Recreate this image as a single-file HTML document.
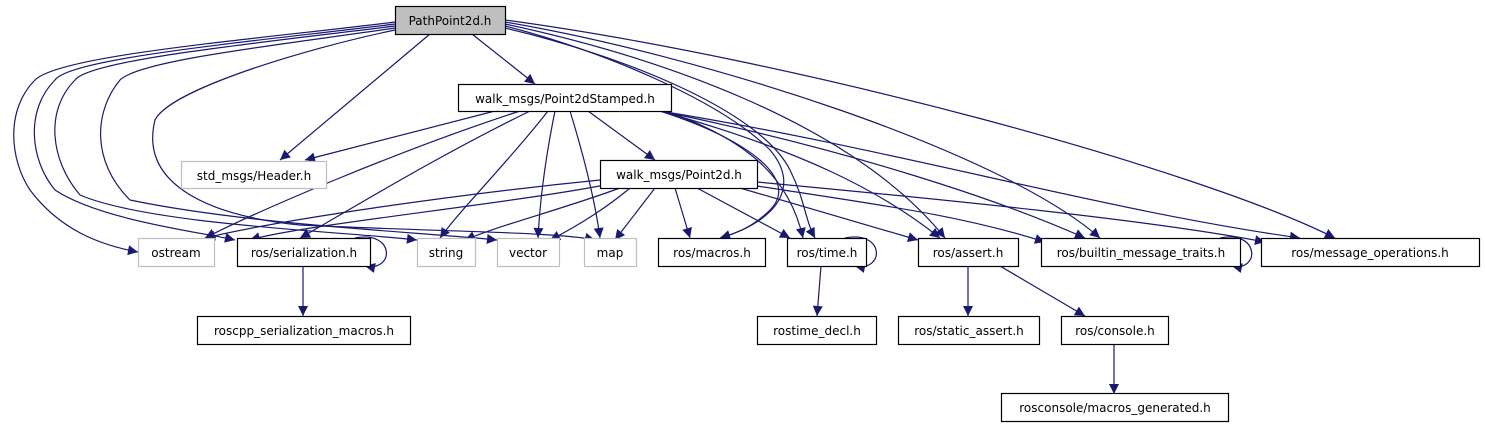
<!DOCTYPE html>
<html><head><meta charset="utf-8"><style>
html,body{margin:0;padding:0;background:#fff}
svg{display:block}
text{font-family:"DejaVu Sans","Liberation Sans",sans-serif;font-size:12px;fill:#000}
</style></head><body>
<svg width="1485" height="427" viewBox="0 0 1485 427" xmlns="http://www.w3.org/2000/svg">
<defs><marker id="a" viewBox="0 0 10 10" refX="10" refY="5" markerWidth="12" markerHeight="10" markerUnits="userSpaceOnUse" orient="auto"><path d="M0,0L10,5L0,10z" fill="#191970"/></marker></defs>
<g fill="none" stroke="#191970" stroke-width="1.2" marker-end="url(#a)">
<path d="M472,34L535,84"/>
<path d="M430,34L280,160"/>
<path d="M395,22C250,40 60,55 35,80C5,110 10,160 30,190C60,230 100,245 138,252"/>
<path d="M395,24C250,42 70,58 55,80C25,110 30,160 55,190C100,220 200,232 235,240"/>
<path d="M395,26C250,44 90,60 75,80C45,110 50,160 80,195C150,225 350,232 417,240"/>
<path d="M395,28C280,45 140,60 120,80C95,110 90,160 130,200C250,225 420,232 497,240"/>
<path d="M395,30C300,50 170,90 155,120C140,180 200,215 300,225C450,232 560,232 595,240"/>
<path d="M505,26C600,50 720,100 770,150C800,185 780,220 720,238"/>
<path d="M505,28C620,55 760,110 790,170C805,200 805,220 815,238"/>
<path d="M505,24C650,55 850,120 945,238"/>
<path d="M505,22C700,55 1000,150 1100,238"/>
<path d="M505,20C800,60 1200,170 1335,238"/>
<path d="M495,111L305,160"/>
<path d="M520,111C400,150 260,210 205,238"/>
<path d="M530,111C430,160 350,210 300,238"/>
<path d="M548,111C510,160 460,210 440,238"/>
<path d="M555,111C545,160 540,200 538,238"/>
<path d="M570,111C585,160 595,200 600,238"/>
<path d="M588,111L655,160"/>
<path d="M660,111C750,140 800,180 770,210C750,230 730,235 720,238"/>
<path d="M665,111C750,140 790,180 803,238"/>
<path d="M660,111C800,150 880,190 940,238"/>
<path d="M660,111C850,150 1000,200 1085,238"/>
<path d="M660,111C900,150 1100,210 1300,238"/>
<path d="M600,180C450,195 280,220 205,238"/>
<path d="M605,185C500,205 300,225 250,240"/>
<path d="M620,188C560,210 500,225 465,240"/>
<path d="M630,188C610,205 580,225 550,240"/>
<path d="M655,188L615,240"/>
<path d="M675,188L690,238"/>
<path d="M697,188L790,238"/>
<path d="M740,188L918,240"/>
<path d="M757,186C880,205 960,215 1045,242"/>
<path d="M757,182C950,200 1150,220 1265,242"/>
<path d="M355,238C395,230 395,272 365,266"/>
<path d="M845,238C885,230 885,272 855,266"/>
<path d="M1220,238C1260,230 1260,272 1232,266"/>
<path d="M303,266L303,316"/>
<path d="M821,266L817,316"/>
<path d="M968,266L968,316"/>
<path d="M1000,266L1085,316"/>
<path d="M1114,344L1114,394"/>
</g>
<g stroke-width="1.2" fill="#fff">
<rect x="395.5" y="6.5" width="110" height="28" fill="#bfbfbf" stroke="#000"/>
<rect x="458.5" y="84.5" width="213" height="27" stroke="#000"/>
<rect x="181.5" y="161.5" width="145" height="27" stroke="#bfbfbf"/>
<rect x="600.5" y="160.5" width="157" height="28" stroke="#000"/>
<rect x="138.5" y="238.5" width="76" height="28" stroke="#bfbfbf"/>
<rect x="237.5" y="238.5" width="133" height="28" stroke="#000"/>
<rect x="417.5" y="238.5" width="58" height="28" stroke="#bfbfbf"/>
<rect x="497.5" y="238.5" width="62" height="28" stroke="#bfbfbf"/>
<rect x="584.5" y="238.5" width="52" height="28" stroke="#bfbfbf"/>
<rect x="658.5" y="238.5" width="107" height="28" stroke="#000"/>
<rect x="787.5" y="238.5" width="79" height="28" stroke="#000"/>
<rect x="918.5" y="238.5" width="100" height="28" stroke="#000"/>
<rect x="1041.5" y="238.5" width="199" height="28" stroke="#000"/>
<rect x="1261.5" y="238.5" width="218" height="28" stroke="#000"/>
<rect x="197.5" y="316.5" width="213" height="28" stroke="#000"/>
<rect x="757.5" y="316.5" width="119" height="28" stroke="#000"/>
<rect x="898.5" y="316.5" width="141" height="28" stroke="#000"/>
<rect x="1061.5" y="316.5" width="107" height="28" stroke="#000"/>
<rect x="1001.5" y="393.5" width="227" height="28" stroke="#000"/>
</g>
<g text-anchor="middle">
<text x="450" y="25">PathPoint2d.h</text>
<text x="565" y="103">walk_msgs/Point2dStamped.h</text>
<text x="254" y="180">std_msgs/Header.h</text>
<text x="679" y="179">walk_msgs/Point2d.h</text>
<text x="176" y="257">ostream</text>
<text x="304" y="257">ros/serialization.h</text>
<text x="446" y="257">string</text>
<text x="528" y="257">vector</text>
<text x="610" y="257">map</text>
<text x="712" y="257">ros/macros.h</text>
<text x="827" y="257">ros/time.h</text>
<text x="968" y="257">ros/assert.h</text>
<text x="1141" y="257">ros/builtin_message_traits.h</text>
<text x="1370" y="257">ros/message_operations.h</text>
<text x="304" y="335">roscpp_serialization_macros.h</text>
<text x="817" y="335">rostime_decl.h</text>
<text x="969" y="335">ros/static_assert.h</text>
<text x="1115" y="335">ros/console.h</text>
<text x="1115" y="412">rosconsole/macros_generated.h</text>
</g>
</svg>
</body></html>
